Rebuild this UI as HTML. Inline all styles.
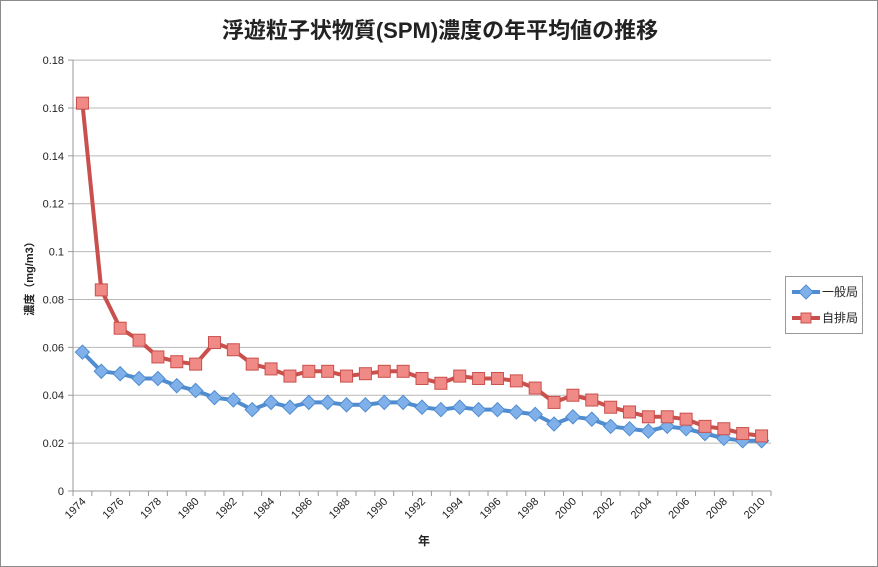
<!DOCTYPE html>
<html><head><meta charset="utf-8"><style>
body{margin:0;background:#fff}
svg{display:block;font-family:"Liberation Sans","Noto Sans CJK JP",sans-serif}
</style></head><body>
<svg id="s" width="878" height="567" viewBox="0 0 878 567" xmlns="http://www.w3.org/2000/svg">
<rect x="0.5" y="0.5" width="877" height="566" fill="#fff" stroke="#8c8c8c"/>
<text x="440" y="38" font-size="22" text-anchor="middle" font-weight="bold" fill="#222">浮遊粒子状物質(SPM)濃度の年平均値の推移</text>
<text transform="translate(33,276) rotate(-90)" font-size="11" text-anchor="middle" font-weight="bold" fill="#222">濃度（mg/m3）</text>
<text x="424" y="545" font-size="12" text-anchor="middle" font-weight="bold" fill="#222">年</text>
<rect x="785.5" y="276.5" width="77" height="57" fill="#fff" stroke="#999"/>
<line x1="792" y1="292" x2="820" y2="292" stroke="#4f8dd0" stroke-width="4"/>
<rect x="801" y="287" width="10" height="10" fill="#7fb0ea" stroke="#4f8dd0" transform="rotate(45 806 292)"/>
<text x="822" y="296" font-size="12" fill="#222">一般局</text>
<line x1="792" y1="318" x2="820" y2="318" stroke="#c9504c" stroke-width="4"/>
<rect x="801" y="313" width="10" height="10" fill="#f08a86" stroke="#c9504c"/>
<text x="822" y="322" font-size="12" fill="#222">自排局</text>
<g id="g"></g>
</svg>
<script>
var g=document.getElementById('g'),h='';
var x0=73,x1=771,y0=491,py=23.94/0.01,n=37,w=(x1-x0)/n;
function Y(v){return y0-v*py}
for(var i=0;i<=9;i++){var v=i*0.02,y=Y(v);
 if(i>0)h+='<line x1="'+x0+'" y1="'+y+'" x2="'+x1+'" y2="'+y+'" stroke="#b8b8b8"/>';
 h+='<line x1="'+(x0-5)+'" y1="'+y+'" x2="'+x0+'" y2="'+y+'" stroke="#999"/>';
 h+='<text x="'+(x0-9)+'" y="'+(y+4)+'" font-size="11" text-anchor="end" fill="#222">'+(i==0?'0':(+v.toFixed(2)))+'</text>';}
h+='<line x1="'+x0+'" y1="'+Y(0.18)+'" x2="'+x0+'" y2="'+y0+'" stroke="#999"/>';
h+='<line x1="'+x0+'" y1="'+y0+'" x2="'+x1+'" y2="'+y0+'" stroke="#999"/>';
for(var i=0;i<=n;i++){var x=x0+i*w;h+='<line x1="'+x+'" y1="'+y0+'" x2="'+x+'" y2="'+(y0+5)+'" stroke="#999"/>';}
for(var i=0;i<n;i+=2){var x=x0+(i+0.5)*w+4;h+='<text transform="translate('+x+',502) rotate(-45)" font-size="11" text-anchor="end" fill="#222">'+(1974+i)+'</text>';}
var b=[.058,.050,.049,.047,.047,.044,.042,.039,.038,.034,.037,.035,.037,.037,.036,.036,.037,.037,.035,.034,.035,.034,.034,.033,.032,.028,.031,.030,.027,.026,.025,.027,.026,.024,.022,.021,.021];
var r=[.162,.084,.068,.063,.056,.054,.053,.062,.059,.053,.051,.048,.050,.050,.048,.049,.050,.050,.047,.045,.048,.047,.047,.046,.043,.037,.040,.038,.035,.033,.031,.031,.030,.027,.026,.024,.023];
function pts(a){return a.map(function(v,i){return (x0+(i+0.5)*w).toFixed(1)+','+Y(v).toFixed(1)}).join(' ')}
h+='<polyline points="'+pts(b)+'" fill="none" stroke="#4f8dd0" stroke-width="4" stroke-linejoin="round"/>';
b.forEach(function(v,i){var x=x0+(i+0.5)*w,y=Y(v);h+='<rect x="'+(x-5)+'" y="'+(y-5)+'" width="10" height="10" fill="#7fb0ea" stroke="#4f8dd0" transform="rotate(45 '+x+' '+y+')"/>';});
h+='<polyline points="'+pts(r)+'" fill="none" stroke="#c9504c" stroke-width="4" stroke-linejoin="round"/>';
r.forEach(function(v,i){var x=x0+(i+0.5)*w,y=Y(v);h+='<rect x="'+(x-6)+'" y="'+(y-6)+'" width="12" height="12" fill="#f08a86" stroke="#c9504c"/>';});
g.innerHTML=h;
</script>
</body></html>
